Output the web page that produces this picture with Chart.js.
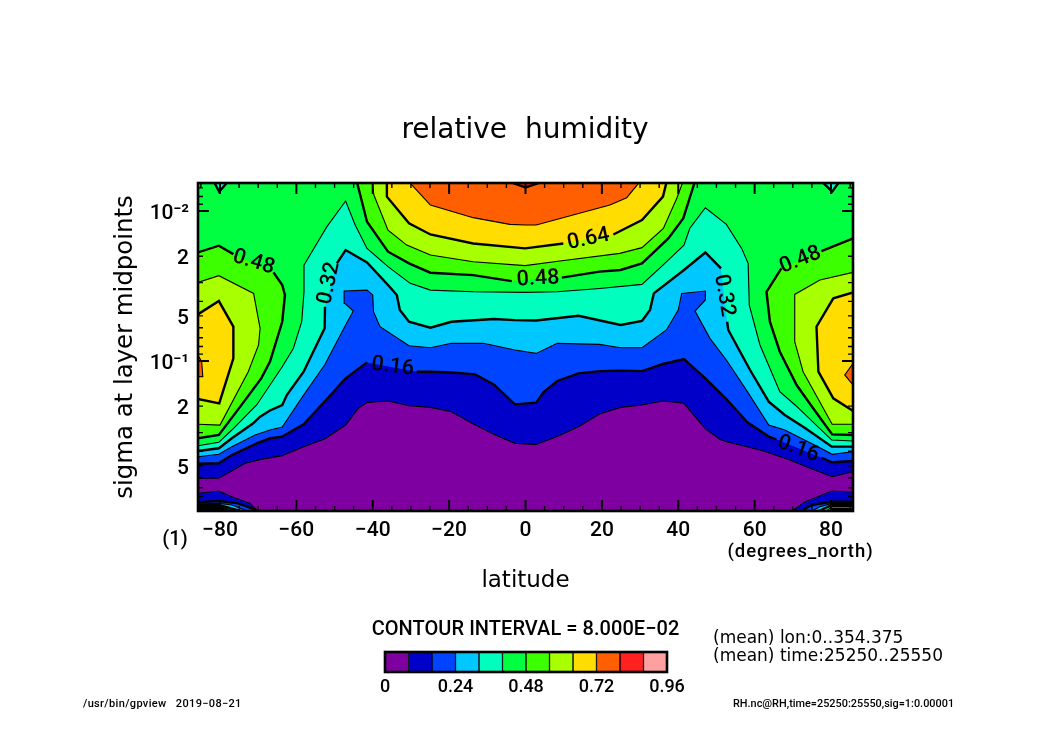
<!DOCTYPE html>
<html>
<head>
<meta charset="utf-8">
<title>relative humidity</title>
<script src="https://cdn.jsdelivr.net/npm/chart.js@4"></script>
<style>
  body { margin: 0; background: #fff; width: 1050px; height: 742px; overflow: hidden; }
  canvas { position: absolute; }
</style>
</head>
<body>
<canvas id="main" width="1050" height="742" style="left:0;top:0"></canvas>
<canvas id="bar" width="340" height="60" style="left:355px;top:642px"></canvas>
<script>
// contour interval and colour tone of each band
const levelStep = 0.08;
const bandColors = ['#7f00a1', '#0000c8', '#0044ff', '#00c8ff', '#00ffbf', '#00ff40',
                    '#3cff00', '#a8ff00', '#ffdd00', '#ff5f00', '#ff2020', '#ffa0a0'];

// axis ticks
const latTicks = [-80, -60, -40, -20, 0, 20, 40, 60, 80];
const latMinorTicks = [-85, -75, -70, -65, -55, -50, -45, -35, -30, -25, -15, -10, -5,
                       5, 10, 15, 25, 30, 35, 45, 50, 55, 65, 70, 75, 85];
const sigmaTicks = [0.01, 0.02, 0.05, 0.1, 0.2, 0.5];
const sigmaTickLabels = ['10⁻²', '2', '5', '10⁻¹', '2', '5'];
const sigmaMajor = [0.01, 0.1];
const sigmaMinor = [0.007, 0.008, 0.009, 0.02, 0.03, 0.04, 0.05, 0.06, 0.07, 0.08, 0.09,
                    0.2, 0.3, 0.4, 0.5, 0.6, 0.7, 0.8, 0.9];
const latMax = 85.76;
const sigmaMin = 0.0065;

// contours as [latitude, log10(sigma)], null = gap for a label
const c08 = [[-85.8,-0.218],[-80.3,-0.218],[-73.4,-0.318],[-69.2,-0.344],[-63.7,-0.369],[-58.1,-0.429],[-52.6,-0.48],[-47.1,-0.573],[-43.8,-0.684],[-41.5,-0.724],[-36,-0.733],[-30.5,-0.702],[-24.9,-0.691],[-19.4,-0.662],[-13.9,-0.584],[-8.3,-0.511],[-2.8,-0.451],[2.8,-0.444],[8.3,-0.496],[13.9,-0.562],[19.4,-0.647],[24.9,-0.691],[30.5,-0.707],[36,-0.733],[41.5,-0.718],[47.1,-0.547],[50.9,-0.478],[52.6,-0.462],[61.4,-0.407],[63.7,-0.389],[69.2,-0.34],[74.7,-0.284],[80.3,-0.229],[85.8,-0.262]];
const c16 = [[-85.8,-0.315],[-80.3,-0.318],[-76.9,-0.373],[-70.4,-0.451],[-66.9,-0.485],[-63.7,-0.496],[-58.1,-0.578],[-52.6,-0.729],[-47.1,-0.884],[-41.5,-0.991],null,[-28.5,-0.929],[-24.9,-0.929],[-19.4,-0.924],[-13.2,-0.911],[-8.3,-0.844],[-2.8,-0.711],[2.8,-0.722],[4.7,-0.791],[8.3,-0.867],[13.9,-0.918],[19.4,-0.933],[24.9,-0.936],[30.5,-0.933],[36,-0.98],[41.5,-1.013],[47.1,-0.884],[52.6,-0.747],[58.1,-0.591],[63.7,-0.496],[65.7,-0.478],null,[77.5,-0.355],[80.3,-0.325],[85.8,-0.333]];
const c24 = [[-85.8,-0.362],[-80.3,-0.378],[-76.9,-0.429],[-70.8,-0.507],[-66.9,-0.54],[-63.7,-0.56],[-58.1,-0.773],[-52.6,-0.973],[-49.4,-1.129],[-47.1,-1.24],[-45.1,-1.333],[-47.3,-1.384],[-47.5,-1.467],[-41.5,-1.473],[-40,-1.44],[-39.8,-1.329],[-38.1,-1.229],[-30.5,-1.102],[-24.9,-1.089],[-19.4,-1.118],[-11,-1.118],[-2.8,-1.073],[2.8,-1.051],[8.3,-1.118],[19.4,-1.111],[24.9,-1.089],[30.5,-1.089],[36.9,-1.207],[40,-1.34],[40.9,-1.451],[47.1,-1.467],[47.1,-1.407],[44.4,-1.333],[48.3,-1.151],[52.6,-1.007],[58.1,-0.796],[63.7,-0.573],[67.9,-0.54],[76.6,-0.429],[80.3,-0.378],[85.8,-0.395]];
const c32 = [[-85.8,-0.4],[-80.3,-0.418],[-76.9,-0.485],[-71.3,-0.585],[-69.5,-0.629],[-66.9,-0.67],[-63.7,-0.707],[-62.5,-0.773],[-58.1,-0.929],[-52.6,-1.218],[-52.5,-1.362],null,[-49.4,-1.651],[-47.1,-1.74],[-41.5,-1.658],[-36,-1.507],[-33.7,-1.44],[-32.9,-1.34],[-30.5,-1.262],[-24.9,-1.222],[-19.4,-1.262],[-8.3,-1.28],[-2.8,-1.273],[2.8,-1.27],[13.9,-1.302],[24.9,-1.24],[30.5,-1.267],[32.6,-1.34],[33.6,-1.451],[41.5,-1.607],[47.1,-1.724],[51.2,-1.618],null,[52.8,-1.262],[53.1,-1.207],[58.8,-0.94],[63.7,-0.729],[67.9,-0.64],[73.2,-0.553],[80.2,-0.429],[85.8,-0.429]];
const c40 = [[-85.8,-0.435],[-80.3,-0.458],[-76.9,-0.54],[-70.4,-0.707],[-63.7,-0.962],[-60.8,-1.084],[-58.6,-1.262],[-58,-1.462],[-58,-1.64],[-52,-1.896],[-47.1,-2.067],[-44.6,-1.907],[-41.5,-1.751],[-36,-1.629],[-30.2,-1.518],[-24.9,-1.473],[-13.7,-1.462],[-0.1,-1.458],[8.3,-1.462],[19.4,-1.484],[30.5,-1.511],[36,-1.64],[41.5,-1.773],[43,-1.884],[47.1,-2.022],[52.6,-1.911],[56.6,-1.751],[58.3,-1.651],[58.6,-1.373],[61.4,-1.107],[66.6,-0.796],[70.6,-0.707],[80.2,-0.473],[85.8,-0.467]];
const c48West = [[-85.8,-1.724],[-80.3,-1.769],[-76.5,-1.713],null,[-66,-1.591],[-63.7,-1.507],[-63,-1.44],[-63.7,-1.262],[-66.9,-0.996],[-69.2,-0.884],[-74.7,-0.696],[-80.3,-0.507],[-85.8,-0.485]];
const c48Dome = [[-44.2,-2.2],[-41.5,-1.929],[-36,-1.729],[-30.5,-1.651],[-24.9,-1.589],[-13.7,-1.573],[-3.6,-1.533],null,[9.5,-1.556],[19.4,-1.596],[24.9,-1.607],[30.5,-1.651],[37.4,-1.818],[41.3,-1.951],[44.4,-2.2]];
const c48East = [[85.8,-1.818],[77.5,-1.733],null,[67,-1.618],[63.7,-1.484],[63.1,-1.462],[64,-1.262],[66.6,-1.062],[71,-0.84],[74.7,-0.707],[80.3,-0.511],[85.8,-0.507]];
const c56West = [[-85.8,-1.524],[-80.3,-1.569],[-71.2,-1.451],[-69.5,-1.218],[-69.9,-1.107],[-72.6,-0.929],[-80,-0.573],[-85.8,-0.578]];
const c56Dome = [[-40.2,-2.2],[-39.7,-2.107],[-36,-1.873],[-31.1,-1.773],[-24.9,-1.707],[-13.7,-1.662],[-0.1,-1.636],[9,-1.667],[24.7,-1.718],[30.5,-1.756],[36.1,-1.884],[39.6,-2.084],[41.3,-2.2]];
const c56East = [[85.8,-1.591],[77.1,-1.54],[70.5,-1.444],[70.5,-1.129],[72.7,-0.929],[80.3,-0.578],[85.8,-0.578]];
const c64West = [[-85.8,-1.311],[-80.3,-1.4],[-76.5,-1.229],[-76.5,-1.018],[-80.2,-0.718],[-85.8,-0.747]];
const c64Dome = [[-36.3,-2.2],[-36.3,-2.096],[-30.5,-1.918],[-24.9,-1.844],[-13.7,-1.784],[-0.1,-1.751],[9.9,-1.784],null,[23,-1.844],[30.5,-1.94],[36,-2.096],[37,-2.2]];
const c64East = [[85.8,-1.458],[80.6,-1.418],[76.2,-1.229],[76.7,-0.929],[80.6,-0.751],[85.8,-0.667]];
const c72West = [[-85.8,-1.04],[-84.8,-0.996],[-84.5,-0.896],[-85.8,-0.896]];
const c72Dome = [[-30.7,-2.2],[-24.9,-2.04],[-13.7,-1.956],[-4.1,-1.911],[-0.1,-1.907],[2.8,-1.907],[13.9,-1.984],[22.1,-2.04],[26.5,-2.089],[30.1,-2.2]];
const c72East = [[85.8,-0.984],[83.6,-0.907],[85.8,-0.84]];
const c80Top = [[-4.7,-2.2],[0,-2.158],[5,-2.2]];
// small dips at the top corners, below 0.40
const c40HoleWest = [[-81.7,-2.2],[-80.2,-2.129],[-77.8,-2.2]];
const c40HoleEast = [[77.5,-2.2],[80.3,-2.129],[82.3,-2.2]];
// lower corners, rising towards the surface
const w08 = [[-85.8,-0.118],[-80.3,-0.133],[-76.9,-0.095],[-72.1,-0.051],[-69.9,0.007]];
const w16 = [[-85.8,-0.058],[-80.3,-0.067],[-75.3,-0.051],[-70.4,-0.007],[-70,0.01]];
const w24 = [[-85.8,-0.047],[-80.3,-0.051],[-76.9,-0.04],[-72.1,0.007]];
const w32 = [[-85.8,-0.04],[-80.3,-0.04],[-73.5,0.007]];
const w40 = [[-85.8,-0.031],[-80.3,-0.033],[-75.3,0.007]];
const w48 = [[-85.8,-0.024],[-80.3,-0.025],[-76.9,0.007]];
const w56 = [[-85.8,-0.016],[-80.3,-0.016],[-78,0.007]];
const w64 = [[-85.8,-0.008],[-80.3,-0.008],[-79,0.007]];
const e08 = [[69.7,0.007],[70.5,-0.013],[73.2,-0.062],[80.2,-0.133],[85.8,-0.125]];
const e16 = [[71.9,0.007],[74.9,-0.04],[80.3,-0.062],[85.8,-0.062]];
const e24 = [[74.5,0.007],[77.1,-0.029],[80.3,-0.051],[85.8,-0.051]];
const e32 = [[76.2,0.007],[80.3,-0.04],[85.8,-0.04]];
const e40 = [[78.4,0.007],[80.3,-0.029],[85.8,-0.029]];
const e48 = [[79.5,0.007],[80.3,-0.013],[85.8,-0.013]];

// contour labels on the lines
const labelTexts = ['0.48', '0.32', '0.16', '0.48', '0.64', '0.48', '0.32', '0.16'];
const labelLats = [-71.2, -51.4, -34.8, 3.3, 16.5, 72, 52, 71.4];
const labelLogSigmas = [-1.658, -1.518, -0.962, -1.547, -1.811, -1.673, -1.436, -0.413];
const labelAngles = [17, -78, 7, -3, -12, -22, 80, 20];

const topClose = [[90, -2.4], [-90, -2.4]];
const bottomWest = [[-90, 0.05]];
const bottomEast = [[90, 0.05]];
const everything = [[-90, 0.05], [90, 0.05], [90, -2.4], [-90, -2.4]];

// painted from the lowest band up: [contour, band index, closing points]
const layers = [
  [everything, 0, []],
  [c08, 1, topClose], [w08, 1, bottomWest], [e08, 1, bottomEast],
  [c16, 2, topClose], [w16, 2, bottomWest], [e16, 2, bottomEast],
  [c24, 3, topClose], [w24, 3, bottomWest], [e24, 3, bottomEast],
  [c32, 4, topClose], [w32, 4, bottomWest], [e32, 4, bottomEast],
  [c40, 5, topClose], [w40, 5, bottomWest], [e40, 5, bottomEast],
  [c40HoleWest, 4, []], [c40HoleEast, 4, []],
  [c48West, 6, []], [c48Dome, 6, []], [c48East, 6, []], [w48, 6, bottomWest], [e48, 6, bottomEast],
  [c56West, 7, []], [c56Dome, 7, []], [c56East, 7, []], [w56, 7, bottomWest],
  [c64West, 8, []], [c64Dome, 8, []], [c64East, 8, []], [w64, 8, bottomWest],
  [c72West, 9, []], [c72Dome, 9, []], [c72East, 9, []],
  [c80Top, 10, []]
];

function toPoint(p) {
  return p ? { x: p[0], y: Math.pow(10, p[1]) } : { x: NaN, y: NaN };
}

// fills first, then the lines on top; every second level is a heavy line
function buildDatasets() {
  const sets = [];
  layers.forEach(([line, band, close]) => {
    sets.push({
      data: line.filter(p => p).concat(close).map(toPoint),
      showLine: true, fill: 'shape', backgroundColor: bandColors[band],
      borderWidth: 0, borderColor: bandColors[band], pointRadius: 0
    });
  });
  layers.forEach(([line, band]) => {
    if (band === 0) return;
    sets.push({
      data: line.map(toPoint),
      showLine: true, fill: false, borderColor: '#000',
      borderWidth: band % 2 === 0 ? 2.4 : 1.1, pointRadius: 0, spanGaps: false
    });
  });
  sets.forEach((s, i) => { s.order = sets.length - i; });
  return sets;
}

const pageTexts = [
  { text: '(1)', x: 175, y: 540, font: '500 20px Roboto' },
  { text: '(degrees_north)', x: 800.5, y: 552, font: '500 18.5px Roboto', spacing: '0.95px' },
  { text: 'CONTOUR INTERVAL = 8.000E−02', x: 525.5, y: 630, font: '500 20px Roboto', spacing: '0.05px' },
  { text: '(mean) lon:0..354.375', x: 713, y: 638.5, font: '17px "DejaVu Sans"', align: 'left' },
  { text: '(mean) time:25250..25550', x: 713, y: 657, font: '17px "DejaVu Sans"', align: 'left' },
  { text: '/usr/bin/gpview   2019−08−21', x: 83, y: 704, font: '500 11px Roboto', spacing: '0.35px', align: 'left' },
  { text: 'RH.nc@RH,time=25250:25550,sig=1:0.00001', x: 733, y: 704, font: '500 10.9px Roboto', align: 'left' }
];

const overlay = {
  id: 'overlay',
  afterDatasetsDraw(chart) {
    const { ctx, chartArea: a, scales: { x, y } } = chart;
    ctx.save();
    ctx.strokeStyle = '#000';

    // tick marks point into the plot on all four sides
    const hTick = (lat, len) => {
      const p = x.getPixelForValue(lat);
      ctx.moveTo(p, a.top); ctx.lineTo(p, a.top + len);
      ctx.moveTo(p, a.bottom); ctx.lineTo(p, a.bottom - len);
    };
    const vTick = (s, len) => {
      const p = y.getPixelForValue(s);
      ctx.moveTo(a.left, p); ctx.lineTo(a.left + len, p);
      ctx.moveTo(a.right, p); ctx.lineTo(a.right - len, p);
    };
    ctx.lineWidth = 1.4;
    ctx.beginPath();
    latMinorTicks.forEach(v => hTick(v, 5));
    sigmaMinor.forEach(v => vTick(v, 5));
    ctx.stroke();
    ctx.lineWidth = 2;
    ctx.beginPath();
    latTicks.forEach(v => hTick(v, 11));
    sigmaMajor.forEach(v => vTick(v, 11));
    ctx.stroke();

    ctx.lineWidth = 2.6;
    ctx.strokeRect(a.left, a.top, a.right - a.left, a.bottom - a.top);

    // contour labels
    ctx.fillStyle = '#000';
    ctx.textAlign = 'center';
    ctx.textBaseline = 'middle';
    ctx.font = '500 21.5px Roboto';
    labelTexts.forEach((t, i) => {
      ctx.save();
      ctx.translate(x.getPixelForValue(labelLats[i]), y.getPixelForValue(Math.pow(10, labelLogSigmas[i])));
      ctx.rotate(labelAngles[i] * Math.PI / 180);
      ctx.fillText(t, 0, 0);
      ctx.restore();
    });

    // loose annotation text around the plot
    pageTexts.forEach(t => {
      ctx.font = t.font;
      ctx.letterSpacing = t.spacing || '0px';
      ctx.textAlign = t.align || 'center';
      ctx.fillText(t.text, t.x, t.y);
    });
    ctx.restore();
  }
};

new Chart(document.getElementById('main'), {
  type: 'scatter',
  data: { datasets: buildDatasets() },
  plugins: [overlay],
  options: {
    responsive: false,
    animation: false,
    events: [],
    plugins: {
      legend: { display: false },
      tooltip: { enabled: false },
      title: {
        display: true,
        text: 'relative  humidity',
        color: '#000',
        font: { family: 'DejaVu Sans', size: 28, weight: 'normal', lineHeight: 1.2 },
        padding: { top: 114, bottom: 35.4 }
      }
    },
    scales: {
      x: {
        type: 'linear',
        min: -latMax,
        max: latMax,
        afterBuildTicks: s => { s.ticks = latTicks.map(v => ({ value: v })); },
        afterFit: s => { s.height = 231; },
        grid: { display: false, drawTicks: false },
        border: { display: false },
        ticks: {
          autoSkip: false, maxRotation: 0, color: '#000', padding: 7,
          font: { family: 'Roboto', size: 21, weight: '500' },
          callback: v => String(v).replace('-', '−')
        },
        title: {
          display: true, text: 'latitude', color: '#000',
          font: { family: 'DejaVu Sans', size: 23 },
          padding: { top: 0, bottom: 147 }
        }
      },
      y: {
        type: 'logarithmic',
        reverse: true,
        min: sigmaMin,
        max: 1,
        afterBuildTicks: s => { s.ticks = sigmaTicks.map(v => ({ value: v })); },
        afterFit: s => { s.width = 198; },
        grid: { display: false, drawTicks: false },
        border: { display: false },
        ticks: {
          autoSkip: false, color: '#000', padding: 9, labelOffset: 2.5,
          font: { family: 'Roboto', size: 21, weight: '500' },
          callback: v => sigmaTickLabels[sigmaTicks.indexOf(v)]
        },
        title: {
          display: true, text: 'sigma at layer midpoints', color: '#000',
          font: { family: 'DejaVu Sans', size: 24.4 },
          padding: { top: 111, bottom: 0 }
        }
      },
      // empty axis that keeps the white margin on the right
      margin: {
        type: 'linear',
        position: 'right',
        afterFit: s => { s.width = 197; },
        grid: { display: false, drawTicks: false },
        border: { display: false },
        ticks: { display: false }
      }
    }
  }
});

// colour bar under the plot
const barFrame = {
  id: 'barFrame',
  afterDatasetsDraw(chart) {
    const { ctx, chartArea: a } = chart;
    ctx.save();
    ctx.lineWidth = 2.6;
    ctx.strokeStyle = '#000';
    ctx.strokeRect(a.left, a.top, a.right - a.left, a.bottom - a.top);
    ctx.restore();
  }
};

new Chart(document.getElementById('bar'), {
  type: 'bar',
  data: {
    labels: ['RH'],
    datasets: bandColors.map(c => ({
      data: [levelStep], backgroundColor: c, borderColor: '#000', borderWidth: 1,
      borderSkipped: false, barPercentage: 1, categoryPercentage: 1
    }))
  },
  plugins: [barFrame],
  options: {
    indexAxis: 'y',
    responsive: false,
    animation: false,
    events: [],
    layout: { padding: { left: 30, right: 28, top: 10 } },
    plugins: { legend: { display: false }, tooltip: { enabled: false } },
    scales: {
      x: {
        stacked: true, min: 0, max: 0.96,
        afterBuildTicks: s => { s.ticks = [0, 0.24, 0.48, 0.72, 0.96].map(v => ({ value: v })); },
        afterFit: s => { s.height = 30; },
        grid: { display: false, drawTicks: false },
        border: { display: false },
        ticks: {
          autoSkip: false, maxRotation: 0, color: '#000', padding: 5,
          font: { family: 'Roboto', size: 18, weight: '500' },
          callback: v => (v === 0 ? '0' : v.toFixed(2))
        }
      },
      y: { stacked: true, display: false }
    }
  }
});
</script>
</body>
</html>
